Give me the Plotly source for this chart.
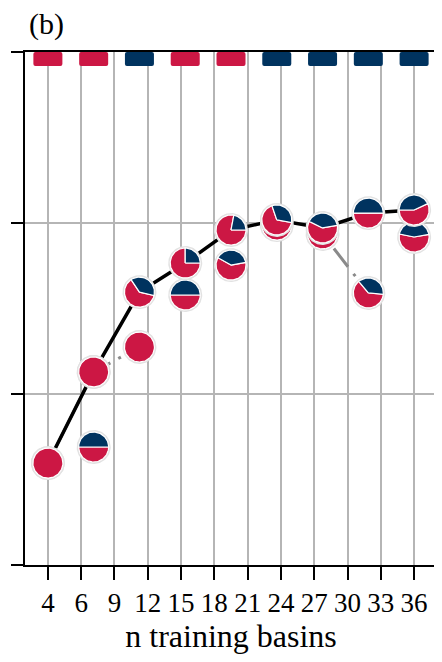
import numpy as np
import plotly.graph_objects as go

# ---------------- data ----------------
n_basins = [4, 8, 12, 16, 20, 24, 28, 32, 36]
tick_labels = ["4", "6", "9", "12", "15", "18", "21", "24", "27", "30", "33", "36"]

score_a = [0.596, 1.129, 1.596, 1.766, 1.959, 2.018, 1.971, 2.058, 2.076]
score_b = [0.596, 1.129, 1.275, 1.579, 1.754, 1.988, 1.936, 1.591, 1.918]
extra_n = [8]
extra_score = [0.690]

navy_share_a = [0.0, 0.0, 0.38, 0.25, 0.22, 0.33, 0.40, 0.50, 0.43]
navy_start_a = [0, 0, -13, 0, 0, -10, 10, 0, 25]
navy_share_b = [0.0, 0.0, 0.0, 0.50, 0.39, 0.40, 0.40, 0.375, 0.44]
navy_start_b = [0, 0, 0, 0, 10, 0, 10, -5, 10]
navy_share_extra = [0.5]
navy_start_extra = [0]

best_model = ["red", "red", "navy", "red", "red", "navy", "navy", "navy", "navy"]

# ---------------- style ----------------
RED = "#CC1744"
NAVY = "#00335F"
HALO = "#E2E2E2"
# the page body adds an 8px margin, so the figure is offset accordingly
W, H = 434, 646
ML, MR, MT, MB = 17, 5, 44, 89
X_RANGE = [2, 38]
Y_RANGE = [0, 3]
sx = (W - ML - MR) / (X_RANGE[1] - X_RANGE[0])
sy = (H - MT - MB) / (Y_RANGE[1] - Y_RANGE[0])
R_PIE = 15.0
R_HALO = 17.0


def arc(cx, cy, r, a0, a1, wedge):
    k = max(int(abs(a1 - a0) / 3), 2)
    th = np.radians(np.linspace(a0, a1, k + 1))
    xs = list(cx + r * np.cos(th) / sx)
    ys = list(cy + r * np.sin(th) / sy)
    if wedge:
        xs = [cx] + xs + [cx]
        ys = [cy] + ys + [cy]
    return xs + [None], ys + [None]


def pie_traces(xv, yv, shares, starts):
    hx, hy, rx, ry, nx, ny = [], [], [], [], [], []
    for x, y, s, a in zip(xv, yv, shares, starts):
        a_, b_ = arc(x, y, R_HALO, 0, 360, False)
        hx += a_; hy += b_
        if s <= 0:
            a_, b_ = arc(x, y, R_PIE, 0, 360, False)
            rx += a_; ry += b_
        else:
            end = a + 360 * s
            a_, b_ = arc(x, y, R_PIE, a, end, True)
            nx += a_; ny += b_
            a_, b_ = arc(x, y, R_PIE, end, a + 360, True)
            rx += a_; ry += b_
    out = [
        go.Scatter(x=hx, y=hy, mode="lines", fill="toself", fillcolor=HALO,
                   line=dict(width=0, color=HALO), hoverinfo="skip", showlegend=False),
        go.Scatter(x=rx, y=ry, mode="lines", fill="toself", fillcolor=RED,
                   line=dict(width=1.2, color="white"), hoverinfo="skip", showlegend=False),
    ]
    if nx:
        out.append(go.Scatter(x=nx, y=ny, mode="lines", fill="toself", fillcolor=NAVY,
                              line=dict(width=1.2, color="white"), hoverinfo="skip",
                              showlegend=False))
    return out


fig = go.Figure()

# top indicator squares
bar_h = 14 / sy
fig.add_trace(go.Bar(
    x=n_basins, y=[-bar_h] * len(n_basins), base=[Y_RANGE[1]] * len(n_basins),
    width=29 / sx, marker=dict(color=[RED if c == "red" else NAVY for c in best_model],
                               line=dict(width=0), cornerradius=2),
    showlegend=False, hoverinfo="skip"))

# lines
fig.add_trace(go.Scatter(x=n_basins, y=score_b, mode="lines",
                         line=dict(color="#8A8A8A", width=3,
                                   dash="121px,9px,3px,271px,23px,9px,3px,200px"),
                         showlegend=False))
fig.add_trace(go.Scatter(x=n_basins, y=score_a, mode="lines",
                         line=dict(color="black", width=3.5), showlegend=False))

# pie markers
for t in pie_traces(extra_n, extra_score, navy_share_extra, navy_start_extra):
    fig.add_trace(t)
for t in pie_traces(n_basins, score_b, navy_share_b, navy_start_b):
    fig.add_trace(t)
for t in pie_traces(n_basins, score_a, navy_share_a, navy_start_a):
    fig.add_trace(t)

tick_pos = list(np.linspace(n_basins[0], n_basins[-1], len(tick_labels)))

fig.update_layout(
    width=W, height=H,
    margin=dict(l=ML, r=MR, t=MT, b=MB, pad=0),
    plot_bgcolor="white", paper_bgcolor="white",
    font=dict(family="Liberation Serif", color="black", size=27),
    xaxis=dict(range=X_RANGE, tickvals=tick_pos, ticktext=tick_labels,
               showgrid=True, gridcolor="#B5B5B5", gridwidth=2,
               showline=True, linecolor="black", linewidth=2, mirror=True,
               ticks="outside", ticklen=13, tickwidth=2, tickcolor="black",
               tickfont=dict(size=27), zeroline=False, automargin=False,
               ticklabelstandoff=0,
               title=dict(text="n training basins", font=dict(size=32), standoff=9)),
    yaxis=dict(range=Y_RANGE, tickvals=[0, 1, 2, 3], showticklabels=False,
               showgrid=True, gridcolor="#B5B5B5", gridwidth=2,
               showline=True, linecolor="black", linewidth=2, mirror=True,
               ticks="outside", ticklen=12, tickwidth=2, tickcolor="black",
               zeroline=False, automargin=False),
    annotations=[dict(text="(b)", xref="paper", yref="paper", x=0.005, y=1.0546,
                      xanchor="left", yanchor="middle", showarrow=False,
                      font=dict(size=30, family="Liberation Serif"))],
)

fig.write_html("out.html")
